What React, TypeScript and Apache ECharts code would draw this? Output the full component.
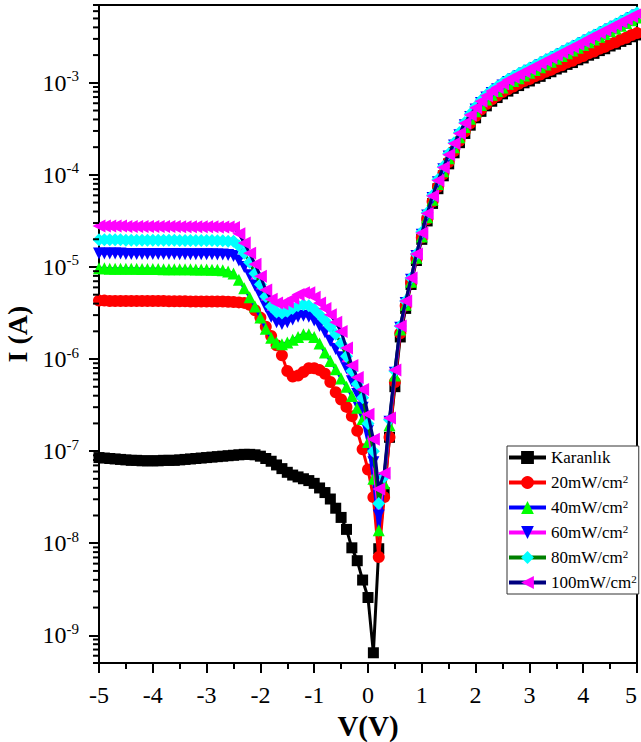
import React, { useEffect, useRef } from 'react';
import * as echarts from 'echarts';

const FONT = 'Liberation Serif';

// Bias voltage (V)
const voltages = [
  -5, -4.9, -4.8, -4.7, -4.6, -4.5, -4.4, -4.3, -4.2, -4.1,
  -4, -3.9, -3.8, -3.7, -3.6, -3.5, -3.4, -3.3, -3.2, -3.1,
  -3, -2.9, -2.8, -2.7, -2.6, -2.5, -2.4, -2.3, -2.2, -2.1,
  -2, -1.9, -1.8, -1.7, -1.6, -1.5, -1.4, -1.3, -1.2, -1.1,
  -1, -0.9, -0.8, -0.7, -0.6, -0.5, -0.4, -0.3, -0.2, -0.1,
  0,
  0.1, 0.2, 0.3, 0.4, 0.5, 0.6, 0.7, 0.8, 0.9, 1,
  1.1, 1.2, 1.3, 1.4, 1.5, 1.6, 1.7, 1.8, 1.9, 2,
  2.1, 2.2, 2.3, 2.4, 2.5, 2.6, 2.7, 2.8, 2.9, 3,
  3.1, 3.2, 3.3, 3.4, 3.5, 3.6, 3.7, 3.8, 3.9, 4,
  4.1, 4.2, 4.3, 4.4, 4.5, 4.6, 4.7, 4.8, 4.9, 5,
];

// Current, given as log10(I / A)
const log10I_dark = [
  -7.07, -7.075, -7.08, -7.085, -7.09, -7.095, -7.10, -7.10, -7.105, -7.105,
  -7.105, -7.105, -7.10, -7.10, -7.10, -7.095, -7.09, -7.085, -7.08, -7.075,
  -7.07, -7.065, -7.06, -7.055, -7.05, -7.045, -7.04, -7.035, -7.035, -7.04,
  -7.055, -7.08, -7.11, -7.15, -7.19, -7.23, -7.26, -7.28, -7.30, -7.32,
  -7.35, -7.40, -7.45, -7.52, -7.62, -7.72, -7.85, -8.05, -8.19, -8.40,
  -8.59,
  -9.19, -8.06, -7.45, -6.85, -6.30, -5.76, -5.45, -5.19, -4.93, -4.70,
  -4.50, -4.31, -4.15, -4.01, -3.88, -3.76, -3.65, -3.55, -3.46, -3.38,
  -3.31, -3.25, -3.20, -3.16, -3.12, -3.09, -3.06, -3.03, -3.00, -2.98,
  -2.95, -2.93, -2.90, -2.88, -2.85, -2.83, -2.80, -2.78, -2.75, -2.73,
  -2.70, -2.68, -2.65, -2.63, -2.60, -2.58, -2.55, -2.53, -2.50, -2.48,
];

const log10I_20 = [
  -5.365, -5.365, -5.37, -5.37, -5.37, -5.37, -5.37, -5.37, -5.37, -5.37,
  -5.37, -5.37, -5.37, -5.372, -5.372, -5.372, -5.372, -5.375, -5.375, -5.375,
  -5.375, -5.375, -5.375, -5.375, -5.378, -5.38, -5.385, -5.39, -5.41, -5.47,
  -5.55, -5.65, -5.75, -5.85, -5.96, -6.13, -6.19, -6.18, -6.14, -6.10,
  -6.10, -6.12, -6.16, -6.25, -6.36, -6.44, -6.52, -6.62, -6.78, -6.98,
  -7.20,
  -7.50, -8.15, -7.50, -6.85, -6.25, -5.72, -5.42, -5.17, -4.91, -4.68,
  -4.48, -4.29, -4.13, -3.99, -3.86, -3.74, -3.63, -3.53, -3.44, -3.36,
  -3.29, -3.23, -3.18, -3.14, -3.10, -3.07, -3.04, -3.01, -2.98, -2.96,
  -2.93, -2.91, -2.88, -2.86, -2.83, -2.81, -2.78, -2.76, -2.73, -2.71,
  -2.68, -2.66, -2.63, -2.61, -2.58, -2.56, -2.53, -2.51, -2.48, -2.46,
];

const log10I_40 = [
  -5.015, -5.015, -5.02, -5.02, -5.02, -5.02, -5.02, -5.02, -5.022, -5.022,
  -5.022, -5.022, -5.025, -5.025, -5.025, -5.025, -5.025, -5.025, -5.028, -5.028,
  -5.028, -5.03, -5.03, -5.035, -5.05, -5.07, -5.14, -5.23, -5.33, -5.43,
  -5.55, -5.67, -5.77, -5.82, -5.84, -5.82, -5.79, -5.76, -5.73, -5.73,
  -5.76, -5.83, -5.93, -6.02, -6.11, -6.21, -6.30, -6.40, -6.53, -6.65,
  -6.90,
  -7.30, -7.86, -7.35, -6.72, -6.18, -5.68, -5.41, -5.16, -4.90, -4.67,
  -4.46, -4.27, -4.10, -3.96, -3.82, -3.70, -3.59, -3.48, -3.39, -3.31,
  -3.24, -3.18, -3.13, -3.09, -3.05, -3.01, -2.98, -2.95, -2.92, -2.89,
  -2.86, -2.83, -2.80, -2.77, -2.74, -2.71, -2.68, -2.65, -2.62, -2.59,
  -2.56, -2.53, -2.50, -2.47, -2.44, -2.41, -2.38, -2.35, -2.32, -2.29,
];

const log10I_60 = [
  -4.855, -4.855, -4.855, -4.855, -4.855, -4.86, -4.86, -4.86, -4.86, -4.86,
  -4.86, -4.86, -4.86, -4.86, -4.86, -4.862, -4.862, -4.862, -4.862, -4.862,
  -4.862, -4.862, -4.865, -4.865, -4.87, -4.88, -4.93, -5.00, -5.09, -5.20,
  -5.31, -5.43, -5.54, -5.60, -5.62, -5.60, -5.57, -5.54, -5.53, -5.54,
  -5.58, -5.64, -5.71, -5.80, -5.89, -5.98, -6.10, -6.24, -6.38, -6.53,
  -6.78,
  -7.12, -7.70, -7.30, -6.68, -6.15, -5.66, -5.39, -5.14, -4.88, -4.65,
  -4.44, -4.25, -4.08, -3.94, -3.80, -3.68, -3.57, -3.46, -3.37, -3.29,
  -3.22, -3.16, -3.11, -3.07, -3.03, -2.99, -2.96, -2.93, -2.90, -2.87,
  -2.84, -2.81, -2.78, -2.75, -2.72, -2.69, -2.66, -2.63, -2.60, -2.57,
  -2.54, -2.51, -2.48, -2.45, -2.42, -2.39, -2.36, -2.33, -2.30, -2.27,
];

const log10I_80 = [
  -4.705, -4.705, -4.705, -4.705, -4.705, -4.71, -4.71, -4.71, -4.71, -4.71,
  -4.71, -4.71, -4.71, -4.71, -4.71, -4.712, -4.712, -4.712, -4.712, -4.712,
  -4.712, -4.712, -4.715, -4.715, -4.72, -4.72, -4.77, -4.85, -4.95, -5.07,
  -5.19, -5.32, -5.43, -5.49, -5.50, -5.48, -5.45, -5.42, -5.41, -5.42,
  -5.46, -5.52, -5.58, -5.65, -5.73, -5.83, -5.97, -6.13, -6.27, -6.42,
  -6.70,
  -7.00, -7.57, -7.28, -6.66, -6.13, -5.64, -5.37, -5.12, -4.86, -4.62,
  -4.41, -4.22, -4.05, -3.91, -3.77, -3.65, -3.54, -3.43, -3.34, -3.26,
  -3.19, -3.13, -3.08, -3.04, -3.00, -2.96, -2.93, -2.90, -2.87, -2.84,
  -2.81, -2.78, -2.75, -2.72, -2.69, -2.66, -2.63, -2.60, -2.57, -2.54,
  -2.51, -2.48, -2.45, -2.42, -2.39, -2.36, -2.33, -2.30, -2.27, -2.24,
];

const log10I_100 = [
  -4.555, -4.555, -4.555, -4.555, -4.555, -4.56, -4.56, -4.56, -4.56, -4.56,
  -4.56, -4.56, -4.56, -4.56, -4.56, -4.562, -4.562, -4.562, -4.562, -4.562,
  -4.562, -4.562, -4.565, -4.565, -4.565, -4.57, -4.64, -4.74, -4.85, -4.97,
  -5.10, -5.25, -5.35, -5.39, -5.40, -5.38, -5.34, -5.30, -5.28, -5.28,
  -5.33, -5.39, -5.45, -5.52, -5.60, -5.70, -5.88, -6.07, -6.20, -6.33,
  -6.60,
  -6.87, -7.41, -7.24, -6.64, -6.12, -5.64, -5.37, -5.12, -4.86, -4.63,
  -4.42, -4.23, -4.06, -3.92, -3.78, -3.66, -3.55, -3.44, -3.35, -3.27,
  -3.20, -3.14, -3.09, -3.05, -3.01, -2.97, -2.94, -2.91, -2.88, -2.85,
  -2.82, -2.79, -2.76, -2.73, -2.70, -2.67, -2.64, -2.61, -2.58, -2.55,
  -2.52, -2.49, -2.46, -2.43, -2.40, -2.37, -2.34, -2.31, -2.28, -2.25,
];

const seriesNames = ['Karanlık', '20mW/cm2', '40mW/cm2', '60mW/cm2', '80mW/cm2', '100mW/cm2'];

// y-axis range (A) and minor tick multipliers
const yMin = 5e-10;
const yMax = 7e-3;
const minorMultipliers = [2, 3, 4, 5, 6, 7, 8, 9];
const decades = [-10, -9, -8, -7, -6, -5, -4, -3];

export default function App() {
  const ref = useRef<HTMLDivElement>(null);

  useEffect(() => {
    if (!ref.current) return;
    const chart = echarts.init(ref.current, null, { renderer: 'svg' });

    const mk = (arr: number[]) => voltages.map((v, i) => [v, Math.pow(10, arr[i])]);

    const defs = [
      { name: seriesNames[0], vals: log10I_dark, symbol: 'rect', size: 11, rot: 0, line: '#000000', mark: '#000000' },
      { name: seriesNames[1], vals: log10I_20, symbol: 'circle', size: 12, rot: 0, line: '#ff0000', mark: '#ff0000' },
      { name: seriesNames[2], vals: log10I_40, symbol: 'triangle', size: 12, rot: 0, line: '#0000ff', mark: '#00ff00' },
      { name: seriesNames[3], vals: log10I_60, symbol: 'triangle', size: 12, rot: 180, line: '#ff00ff', mark: '#0000ff' },
      { name: seriesNames[4], vals: log10I_80, symbol: 'diamond', size: 13, rot: 0, line: '#008000', mark: '#00ffff' },
      { name: seriesNames[5], vals: log10I_100, symbol: 'triangle', size: 13, rot: 90, line: '#000080', mark: '#ff00ff' },
    ];

    const lineSeries = defs.map((d, k) => ({
      type: 'line',
      name: d.name,
      data: mk(d.vals),
      symbol: d.symbol,
      symbolSize: d.size,
      symbolRotate: d.rot,
      showAllSymbol: true,
      showSymbol: true,
      lineStyle: { color: d.line, width: 3 },
      itemStyle: { color: d.mark },
      emphasis: { disabled: true },
      z: 2 + k * 0.01,
      silent: true,
    }));

    const minorVals: number[] = [];
    decades.forEach((e) => {
      minorMultipliers.forEach((m) => {
        const v = m * Math.pow(10, e);
        if (v >= yMin * 0.999 && v <= yMax * 1.001) minorVals.push(v);
      });
    });

    const minorTickSeries = {
      type: 'custom',
      name: 'minorY',
      silent: true,
      clip: false,
      z: 5,
      data: minorVals.map((v) => [-5, v]),
      renderItem: (params: any, api: any) => {
        const p = api.coord([api.value(0), api.value(1)]);
        return {
          type: 'line',
          shape: { x1: p[0] - 6, y1: p[1], x2: p[0], y2: p[1] },
          style: { stroke: '#000', lineWidth: 2 },
        };
      },
    };

    const legendLabel = (name: string) => {
      if (name.endsWith('cm2')) return `{t|${name.slice(0, -1)}}{s|2}`;
      return `{t|${name}}`;
    };

    chart.setOption({
      animation: false,
      backgroundColor: '#ffffff',
      textStyle: { fontFamily: FONT },
      grid: {
        left: 99,
        right: 4,
        top: 5,
        bottom: 79,
        containLabel: false,
        outerBoundsMode: 'none',
        show: true,
        borderColor: '#000',
        borderWidth: 2,
        backgroundColor: 'transparent',
      },
      legend: {
        data: seriesNames,
        orient: 'vertical',
        left: 507,
        top: 446,
        padding: [3, 2, 3, 0],
        itemWidth: 37,
        itemHeight: 16,
        itemGap: 7.5,
        selectedMode: false,
        backgroundColor: '#ffffff',
        borderColor: '#333',
        borderWidth: 1,
        borderRadius: 0,
        lineStyle: { width: 4 },
        formatter: legendLabel,
        textStyle: {
          color: '#000',
          fontFamily: FONT,
          fontSize: 17,
          padding: [0, 0, 0, 0],
          rich: {
            t: { fontFamily: FONT, fontSize: 17, color: '#000', lineHeight: 18 },
            s: { fontFamily: FONT, fontSize: 11, color: '#000', lineHeight: 10, verticalAlign: 'top' },
          },
        },
      },
      xAxis: {
        type: 'value',
        min: -5,
        max: 5,
        interval: 1,
        axisLine: { show: true, onZero: false, lineStyle: { color: '#000', width: 2 } },
        axisTick: { show: true, inside: false, length: 10, lineStyle: { color: '#000', width: 2 } },
        minorTick: { show: true, splitNumber: 2, length: 6, lineStyle: { color: '#000', width: 2 } },
        splitLine: { show: false },
        minorSplitLine: { show: false },
        axisLabel: {
          color: '#000',
          fontFamily: FONT,
          fontSize: 24,
          margin: 20,
          hideOverlap: false,
          alignMaxLabel: 'right',
        },
        name: 'V(V)',
        nameLocation: 'middle',
        nameGap: 44,
        nameTextStyle: { color: '#000', fontFamily: FONT, fontSize: 29, fontWeight: 'bold' },
      },
      yAxis: {
        type: 'log',
        logBase: 10,
        min: yMin,
        max: yMax,
        axisLine: { show: true, onZero: false, lineStyle: { color: '#000', width: 2 } },
        axisTick: { show: true, inside: false, length: 10, lineStyle: { color: '#000', width: 2 } },
        splitLine: { show: false },
        axisLabel: {
          margin: 20,
          showMinLabel: false,
          showMaxLabel: false,
          fontFamily: FONT,
          formatter: (val: number) => {
            const e = Math.log10(val);
            const r = Math.round(e);
            if (Math.abs(e - r) > 1e-6) return '';
            return `{b|10}{s|${r}}`;
          },
          rich: {
            b: { fontFamily: FONT, fontSize: 24, color: '#000', lineHeight: 28 },
            s: { fontFamily: FONT, fontSize: 15, color: '#000', lineHeight: 15, verticalAlign: 'top' },
          },
        },
        name: 'I (A)',
        nameLocation: 'middle',
        nameGap: 56,
        nameTextStyle: { color: '#000', fontFamily: FONT, fontSize: 28, fontWeight: 'bold' },
      },
      series: [...lineSeries, minorTickSeries],
    });

    return () => {
      chart.dispose();
    };
  }, []);

  return (
    <div
      ref={ref}
      style={{ position: 'fixed', left: 0, top: 0, width: 641, height: 742, background: '#fff' }}
    />
  );
}
